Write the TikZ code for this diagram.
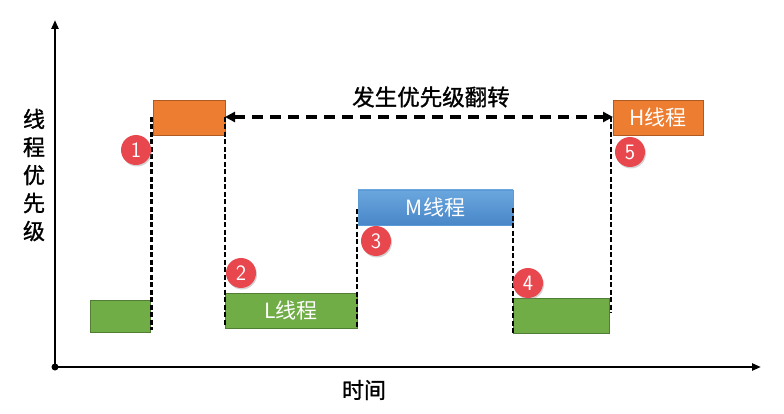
\documentclass[tikz,border=0pt]{standalone}
\usepackage{fontspec}
\newfontfamily\cjk{Noto Sans CJK SC}
\newfontfamily\cjkb{Noto Sans CJK SC}[FakeBold=1.2]
\usetikzlibrary{arrows.meta,shadows}
\definecolor{orgF}{HTML}{ED7D31}
\definecolor{orgD}{HTML}{AE5A21}
\definecolor{grnF}{HTML}{70AD47}
\definecolor{grnD}{HTML}{507E32}
\definecolor{bluT}{HTML}{6BA7DE}
\definecolor{bluB}{HTML}{4886C8}
\definecolor{bluD}{HTML}{5B9BD5}
\definecolor{redC}{HTML}{E8474E}
\tikzset{
  bar/.style={rectangle, inner sep=0pt, line width=0.8pt, text=white, font=\fontsize{21}{21}\selectfont\cjk},
  orangebar/.style={bar, fill=orgF, draw=orgD},
  greenbar/.style={bar, fill=grnF, draw=grnD},
  bluebar/.style={bar, top color=bluT, bottom color=bluB, draw=bluD},
  badge/.style={circle, fill=redC, minimum size=30pt, inner sep=0pt, text=white,
     font=\fontsize{22}{22}\selectfont\sffamily, drop shadow={shadow xshift=1pt, shadow yshift=-1.5pt, opacity=0.35}},
  vdash/.style={black, line width=2.8pt, dash pattern=on 5pt off 2.5pt},
  axis/.style={black, line width=2.2pt},
  lab/.style={font=\fontsize{22}{28}\selectfont\cjkb, align=center},
}
\begin{document}
\begin{tikzpicture}[x=1pt,y=-1pt]
\useasboundingbox (0,0) rectangle (784,414);
% axes
\coordinate (O) at (55,367);
\coordinate (ytop) at (55,20);
\coordinate (xend) at (761,367);
\fill (O) circle (3.5pt);
\draw[axis, -{Triangle[length=9pt,width=7pt]}] (O) -- (ytop);
\draw[axis, -{Triangle[length=9pt,width=7pt]}] (O) -- (xend);
\node[lab] (ylab) at (34,175) {线\\程\\优\\先\\级};
\node[lab] (xlab) at (364,390) {时间};
% bars
\node[greenbar, minimum width=60pt, minimum height=32pt] (g1) at (120,316) {};
\node[orangebar, minimum width=72pt, minimum height=35pt] (o1) at (189,117.5) {};
\node[greenbar, minimum width=132pt, minimum height=35pt] (gL) at (291,310.5) {L线程};
\node[bluebar, minimum width=155pt, minimum height=35pt] (bM) at (435.5,207.5) {M线程};
\node[greenbar, minimum width=96pt, minimum height=35pt] (g4) at (561,315.5) {};
\node[orangebar, minimum width=90pt, minimum height=35pt] (oH) at (658,117.5) {H线程};
% dashed verticals
\coordinate (d1t) at (151.5,117); \coordinate (d1b) at (151.5,330);
\coordinate (d2t) at (225,117);   \coordinate (d2b) at (225,326);
\coordinate (d3t) at (357,209);   \coordinate (d3b) at (357,327);
\coordinate (d4t) at (513,208);   \coordinate (d4b) at (513,333);
\coordinate (d5t) at (611,117);   \coordinate (d5b) at (611,313);
\draw[vdash] (d1t) -- (d1b);
\draw[vdash] (d2t) -- (d2b);
\draw[vdash] (d3t) -- (d3b);
\draw[vdash] (d4t) -- (d4b);
\draw[vdash] (d5t) -- (d5b);
% priority inversion arrow
\coordinate (al) at (225,117);
\coordinate (ar) at (613,117);
\draw[black, line width=3.4pt, dash pattern=on 11pt off 7pt,
  {Triangle[length=10pt,width=10pt]}-{Triangle[length=10pt,width=10pt]}] (al) -- (ar);
\node[font=\fontsize{22.5}{22.5}\selectfont\cjkb] (title) at (431,97) {发生优先级翻转};
% badges
\node[badge] (b1) at (136,150) {1};
\node[badge] (b2) at (241,273) {2};
\node[badge] (b3) at (376,241) {3};
\node[badge] (b4) at (528,283) {4};
\node[badge] (b5) at (630,152) {5};
\end{tikzpicture}
\end{document}
